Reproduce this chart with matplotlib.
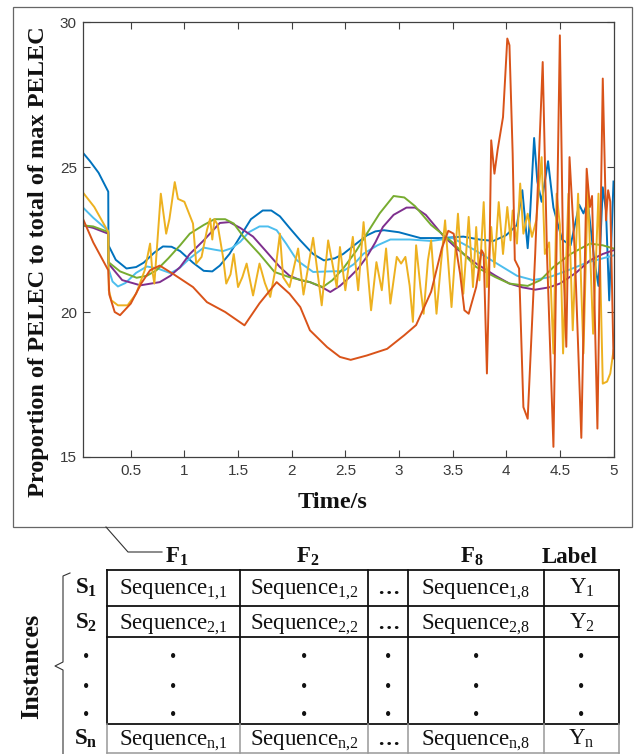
import matplotlib
matplotlib.use('Agg')
import matplotlib.pyplot as plt
from matplotlib.patches import Rectangle

plt.rcParams['mathtext.fontset'] = 'custom'
plt.rcParams['mathtext.rm'] = 'Liberation Serif'
plt.rcParams['mathtext.it'] = 'Liberation Serif:italic'
plt.rcParams['mathtext.bf'] = 'Liberation Serif:bold'

# ---------------- data ----------------
blue_x = [0.05, 0.052, 0.12, 0.2, 0.29, 0.292, 0.36, 0.46, 0.55, 0.62,
          0.72, 0.80, 0.88, 0.96, 1.08, 1.18, 1.26, 1.33, 1.42, 1.52,
          1.62, 1.73, 1.81, 1.89, 1.98, 2.08, 2.20, 2.30, 2.40, 2.48,
          2.60, 2.70, 2.78, 2.86, 3.00, 3.20, 3.40, 3.60, 3.75, 3.88,
          4.00, 4.10, 4.15, 4.20, 4.22, 4.26, 4.29, 4.33, 4.39, 4.44,
          4.52, 4.60, 4.68, 4.72, 4.76, 4.82, 4.86, 4.90, 4.93, 4.96,
          5.00]
blue_y = [21.55, 25.5, 25.2, 24.8, 24.15, 22.3, 21.8, 21.5, 21.55, 21.7,
          22.05, 22.26, 22.25, 22.1, 21.7, 21.42, 21.4, 21.6, 22.0, 22.6,
          23.2, 23.5, 23.5, 23.3, 22.9, 22.47, 22.0, 21.78, 21.85, 22.0,
          22.35, 22.64, 22.78, 22.82, 22.75, 22.55, 22.55, 22.6, 22.5, 22.45,
          22.65, 23.0, 24.2, 22.2, 23.2, 26.0, 24.5, 23.8, 25.2, 23.6,
          22.5, 22.3, 23.7, 23.4, 23.8, 21.8, 20.9, 24.3, 23.5, 20.4,
          24.5]

orange_x = [0.05, 0.15, 0.29, 0.30, 0.35, 0.40, 0.50, 0.60, 0.68, 0.77,
            0.90, 1.08, 1.21, 1.38, 1.56, 1.70, 1.86, 1.98, 2.08, 2.17,
            2.33, 2.45, 2.55, 2.70, 2.89, 3.05, 3.16, 3.30, 3.40, 3.46,
            3.51, 3.57, 3.61, 3.65, 3.72, 3.77, 3.79, 3.82, 3.84, 3.86,
            3.89, 3.92, 3.97, 4.01, 4.03, 4.06, 4.08, 4.12, 4.16, 4.20,
            4.27, 4.34, 4.38, 4.44, 4.50, 4.53, 4.56, 4.59, 4.64, 4.70,
            4.75, 4.78, 4.80, 4.85, 4.90, 4.93, 4.95, 4.97, 5.00]
orange_y = [23.25, 22.4, 21.44, 20.6, 20.0, 19.89, 20.29, 21.0, 21.44, 21.6,
            21.3, 20.86, 20.34, 20.0, 19.54, 20.3, 21.03, 20.63, 20.17, 19.37,
            18.79, 18.45, 18.35, 18.5, 18.73, 19.2, 19.55, 20.7, 22.2, 22.8,
            22.7, 21.32, 20.06, 19.94, 20.86, 22.13, 22.0, 17.88, 21.0, 25.92,
            24.77, 25.6, 26.72, 29.43, 29.2, 25.46, 21.8, 21.5, 16.72, 16.32,
            22.0, 28.62, 22.0, 15.35, 29.54, 22.0, 18.8, 25.34, 22.0, 15.66,
            24.94, 23.62, 24.0, 15.98, 28.05, 23.16, 24.2, 23.8, 18.4]

yellow_x = [0.05, 0.16, 0.29, 0.295, 0.32, 0.38, 0.47, 0.55, 0.63, 0.68,
            0.70, 0.72, 0.78, 0.83, 0.86, 0.91, 0.94, 1.00, 1.08, 1.11,
            1.16, 1.21, 1.24, 1.26, 1.28, 1.31, 1.36, 1.39, 1.43, 1.46,
            1.50, 1.54, 1.58, 1.64, 1.70, 1.75, 1.80, 1.85, 1.89, 1.92,
            1.98, 2.06, 2.11, 2.20, 2.28, 2.34, 2.42, 2.45, 2.50, 2.57,
            2.62, 2.67, 2.70, 2.74, 2.79, 2.84, 2.88, 2.92, 2.98, 3.02,
            3.06, 3.10, 3.13, 3.16, 3.20, 3.23, 3.27, 3.30, 3.35, 3.39,
            3.43, 3.49, 3.55, 3.60, 3.65, 3.69, 3.72, 3.75, 3.79, 3.82,
            3.86, 3.89, 3.93, 3.97, 4.01, 4.04, 4.06, 4.10, 4.13, 4.16,
            4.20, 4.24, 4.28, 4.33, 4.36, 4.40, 4.44, 4.47, 4.50, 4.53,
            4.58, 4.62, 4.67, 4.72, 4.76, 4.81, 4.86, 4.90, 4.94, 4.97,
            5.00]
yellow_y = [24.14, 23.62, 22.76, 20.75, 20.4, 20.23, 20.23, 20.63, 21.44, 22.36,
            21.44, 20.98, 24.08, 22.7, 23.2, 24.48, 23.9, 23.8, 23.05, 21.67,
            21.9, 22.82, 23.22, 22.5, 23.2, 23.0, 21.9, 20.98, 21.3, 22.0,
            20.86, 21.2, 21.67, 20.57, 21.67, 21.0, 20.52, 21.5, 22.7, 21.2,
            20.86, 22.19, 20.6, 22.56, 20.23, 22.47, 20.86, 22.24, 20.75, 22.59,
            20.75, 23.1, 21.78, 20.06, 21.72, 20.75, 22.19, 20.29, 21.9, 21.67,
            21.9, 20.9, 19.66, 22.3, 20.86, 19.94, 21.78, 22.47, 19.94, 21.6,
            23.16, 20.17, 23.39, 20.63, 23.28, 20.86, 22.93, 21.09, 23.79, 20.86,
            22.93, 21.55, 23.79, 22.0, 23.62, 22.47, 23.5, 22.36, 24.43, 22.7,
            23.39, 22.59, 23.16, 25.34, 22.0, 22.4, 18.57, 24.08, 23.0, 18.57,
            24.08, 19.37, 24.08, 18.57, 24.31, 19.25, 24.08, 17.53, 17.6, 17.88,
            18.68]

purple_x = [0.05, 0.15, 0.29, 0.292, 0.42, 0.59, 0.77, 0.87, 0.96, 1.05,
            1.18, 1.33, 1.42, 1.52, 1.64, 1.76, 1.89, 1.98, 2.08, 2.17,
            2.28, 2.36, 2.45, 2.54, 2.62, 2.70, 2.78, 2.85, 2.95, 3.07,
            3.15, 3.25, 3.41, 3.55, 3.72, 3.90, 4.03, 4.15, 4.27, 4.40,
            4.50, 4.65, 4.78, 4.90, 5.00]
purple_y = [22.99, 22.9, 22.7, 21.67, 21.1, 20.92, 21.03, 21.25, 21.55, 22.0,
            22.47, 23.07, 23.1, 22.9, 22.6, 22.1, 21.55, 21.25, 21.1, 21.03,
            20.86, 20.69, 20.9, 21.2, 21.5, 21.9, 22.4, 22.93, 23.35, 23.6,
            23.6, 23.35, 22.64, 22.15, 21.67, 21.25, 20.98, 20.85, 20.77, 20.85,
            20.98, 21.35, 21.78, 22.0, 22.13]

green_x = [0.05, 0.15, 0.29, 0.292, 0.40, 0.555, 0.65, 0.74, 0.85, 0.96,
           1.05, 1.18, 1.28, 1.38, 1.46, 1.55, 1.70, 1.84, 1.98, 2.17,
           2.29, 2.38, 2.48, 2.60, 2.70, 2.82, 2.95, 3.05, 3.15, 3.30,
           3.50, 3.72, 3.90, 4.03, 4.20, 4.32, 4.44, 4.60, 4.78, 4.90,
           5.00]
green_y = [22.99, 22.95, 22.76, 21.72, 21.4, 21.18, 21.25, 21.44, 21.85, 22.3,
           22.7, 23.0, 23.2, 23.2, 23.05, 22.6, 22.0, 21.38, 21.2, 21.03,
           20.86, 21.1, 21.5, 22.1, 22.7, 23.4, 24.0, 23.95, 23.65, 23.0,
           22.4, 21.55, 21.2, 20.98, 20.9, 21.1, 21.55, 22.0, 22.36, 22.3,
           22.19]

lblue_x = [0.05, 0.15, 0.29, 0.292, 0.33, 0.38, 0.45, 0.55, 0.65, 0.75,
           0.87, 0.95, 1.05, 1.18, 1.28, 1.36, 1.44, 1.52, 1.60, 1.70,
           1.78, 1.86, 1.95, 2.05, 2.20, 2.35, 2.48, 2.58, 2.67, 2.80,
           2.92, 3.10, 3.30, 3.50, 3.70, 3.90, 4.10, 4.25, 4.40, 4.55,
           4.75, 5.00]
lblue_y = [23.62, 23.25, 22.8, 21.5, 21.05, 20.88, 21.0, 21.35, 21.57, 21.5,
           21.34, 21.5, 21.85, 22.22, 22.15, 22.1, 22.2, 22.42, 22.75, 22.95,
           22.95, 22.82, 22.35, 21.78, 21.38, 21.4, 21.41, 21.65, 22.01, 22.3,
           22.5, 22.5, 22.45, 22.55, 22.15, 21.7, 21.25, 21.1, 21.2, 21.4,
           21.7, 21.95]

xticks = [0.5, 1, 1.5, 2, 2.5, 3, 3.5, 4, 4.5, 5]
xtick_labels = ['0.5', '1', '1.5', '2', '2.5', '3', '3.5', '4', '4.5', '5']
yticks = [15, 20, 25, 30]
ytick_labels = ['15', '20', '25', '30']

headers = [r'$\mathbf{F}_{\mathbf{1}}$', r'$\mathbf{F}_{\mathbf{2}}$',
           r'$\mathbf{F}_{\mathbf{8}}$', 'Label']
row_names = [r'$\mathbf{S}_{\mathbf{1}}$', r'$\mathbf{S}_{\mathbf{2}}$',
             r'$\mathbf{S}_{\mathbf{n}}$']
row1 = [r'$\mathrm{Sequence}_{1{,}1}$', r'$\mathrm{Sequence}_{1{,}2}$', '…',
        r'$\mathrm{Sequence}_{1{,}8}$', r'$\mathrm{Y}_{1}$']
row2 = [r'$\mathrm{Sequence}_{2{,}1}$', r'$\mathrm{Sequence}_{2{,}2}$', '…',
        r'$\mathrm{Sequence}_{2{,}8}$', r'$\mathrm{Y}_{2}$']
rown = [r'$\mathrm{Sequence}_{\mathrm{n}{,}1}$', r'$\mathrm{Sequence}_{\mathrm{n}{,}2}$', '…',
        r'$\mathrm{Sequence}_{\mathrm{n}{,}8}$', r'$\mathrm{Y}_{\mathrm{n}}$']

# ---------------- figure ----------------
W, H = 638, 754
fig = plt.figure(figsize=(W / 100, H / 100), dpi=100)
fig.patch.set_facecolor('white')

ov = fig.add_axes([0, 0, 1, 1])
ov.set_xlim(0, W)
ov.set_ylim(H, 0)
ov.axis('off')

serif = 'Liberation Serif'
ink = '#111111'

# frame around the chart and connector
ov.add_patch(Rectangle((13, 7), 618.5, 520, fill=False, ec='#666666', lw=0.9))
ov.plot([106, 128, 162], [527, 552, 552], color='#333333', lw=0.8)

# axis labels (serif bold)
ov.text(39, 262, 'Proportion of PELEC to total of max PELEC', rotation=90,
        ha='center', va='center', fontsize=17.5, fontweight='bold', family=serif, color=ink)
ov.text(333, 503, 'Time/s', ha='center', va='center', fontsize=17.5,
        fontweight='bold', family=serif, color=ink)

# ---- table ----
col_edges = [107, 240, 368, 408, 544, 619]
col_centers = [(col_edges[i] + col_edges[i + 1]) / 2 for i in range(5)]
row_edges = [570, 606, 637, 724]
for y in row_edges:
    ov.plot([col_edges[0], col_edges[-1]], [y, y], color='#111111', lw=1.3, solid_capstyle='projecting')
for x in col_edges:
    ov.plot([x, x], [570, 724], color='#111111', lw=1.3)
    ov.plot([x, x], [724, 753], color='#999999', lw=1.1)
ov.plot([col_edges[0], col_edges[-1]], [753, 753], color='#999999', lw=1.1)

hdr_x = [177, 308, 472, 570]
for x, t in zip(hdr_x, headers):
    ov.text(x, 563, t, ha='center', va='baseline', fontsize=16.5,
            fontweight='bold', family=serif, color=ink)

for base, name, cells in [(594, row_names[0], row1), (629, row_names[1], row2),
                          (745, row_names[2], rown)]:
    ov.text(86, base, name, ha='center', va='baseline', fontsize=16.5,
            family=serif, color=ink)
    for cx, t in zip(col_centers, cells):
        if t == '…':
            ov.text(cx, base, t, ha='center', va='baseline', fontsize=16,
                    fontweight='bold', family=serif, color=ink)
        else:
            ov.text(cx, base, t, ha='center', va='baseline', fontsize=16.5,
                    family=serif, color=ink)

for y in [658, 687, 715]:
    for cx in [86] + col_centers:
        ov.text(cx, y, '•', ha='center', va='center', fontsize=13,
                family=serif, color=ink)

# bracket and "Instances"
ov.plot([70, 63, 63, 55, 63, 63], [573, 576, 662, 666, 670, 754],
        color='#333333', lw=0.8)
ov.text(32, 666, 'Instances', rotation=90, ha='center', va='center',
        fontsize=19, fontweight='bold', family=serif, color=ink)

# ---------------- chart ----------------
ax = fig.add_axes([82.5 / W, 1 - 457 / H, 531 / W, 435 / H])
lw = 1.4
ax.plot(blue_x, blue_y, color='#0072BD', lw=lw)
ax.plot(lblue_x, lblue_y, color='#4DBEEE', lw=lw)
ax.plot(purple_x, purple_y, color='#7E2F8E', lw=lw)
ax.plot(green_x, green_y, color='#77AC30', lw=lw)
ax.plot(yellow_x, yellow_y, color='#EDB120', lw=lw)
ax.plot(orange_x, orange_y, color='#D95319', lw=lw)

ax.set_xlim(0.05, 5)
ax.set_ylim(15, 30)
ax.set_xticks(xticks)
ax.set_xticklabels(xtick_labels)
ax.set_yticks(yticks)
ax.set_yticklabels(ytick_labels)
ax.tick_params(axis='both', direction='in', length=5, width=0.8,
               top=True, right=True, color='#404040', labelcolor='#3a3a3a',
               labelsize=11)
ax.tick_params(axis='x', pad=5)
ax.tick_params(axis='y', pad=4)
for lab in ax.get_xticklabels() + ax.get_yticklabels():
    lab.set_family('Liberation Sans')
for s in ax.spines.values():
    s.set_color('#404040')
    s.set_linewidth(0.9)

fig.savefig('out.png', dpi=100)
